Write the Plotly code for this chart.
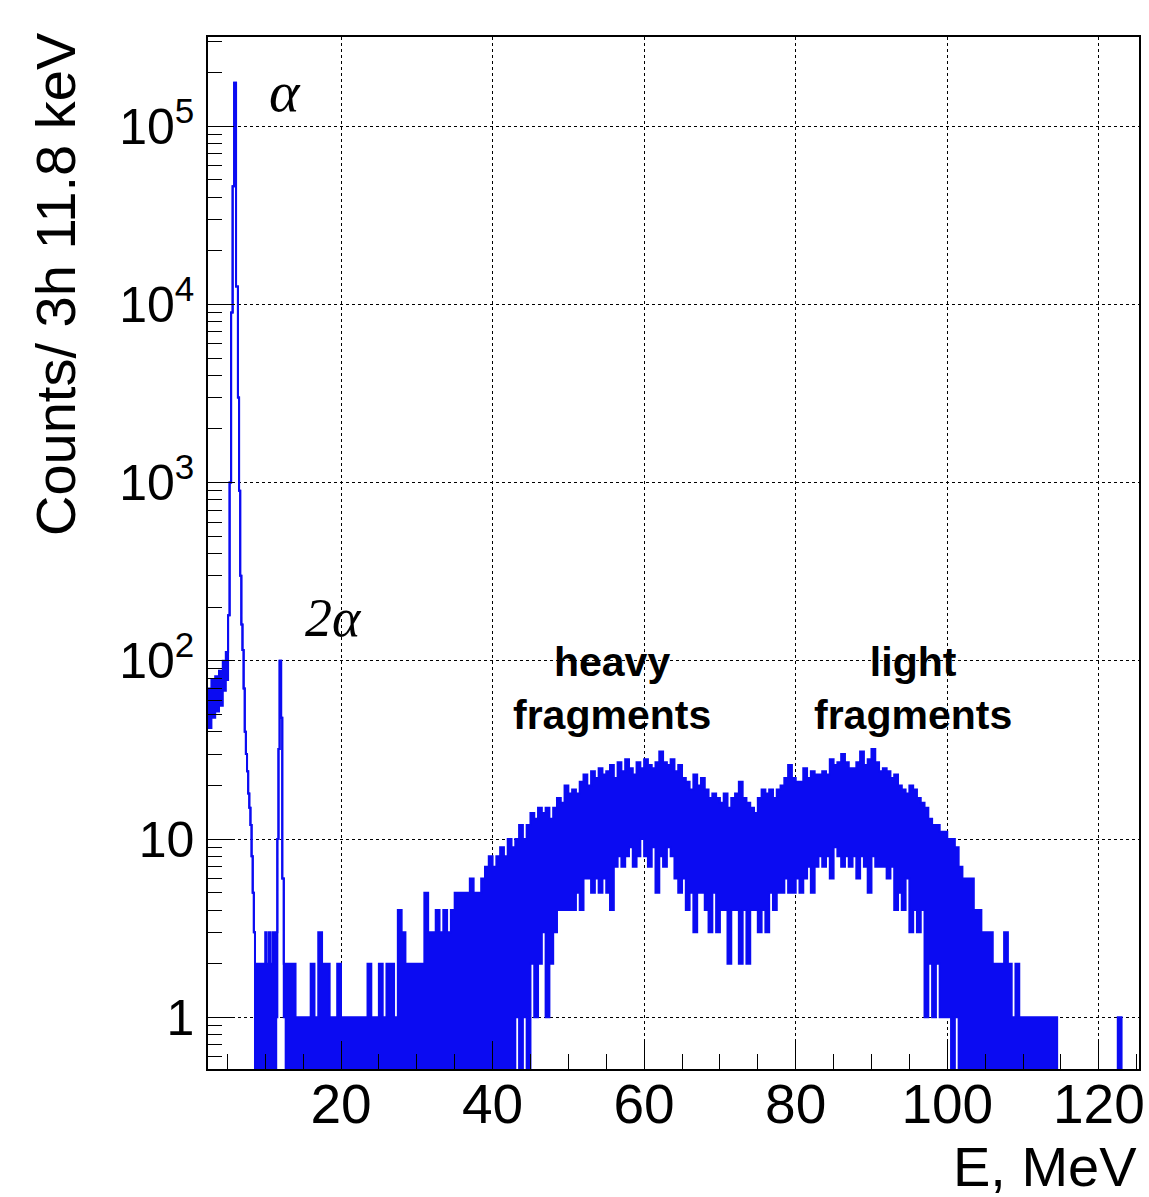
import plotly.graph_objects as go

# ---------------- data ----------------
# Low-energy part (alpha peak and 2-alpha peak): irregular bins, left edges in MeV
low_edges = [2.45, 2.9, 3.4, 3.9, 4.4, 4.8, 5.1, 5.3, 5.5, 5.7, 5.9, 6.15, 6.4, 6.55,
             6.7, 6.85, 7.0, 7.15, 7.3, 7.45, 7.6, 7.75, 7.9, 8.05, 8.2, 8.35, 8.5, 8.65,
             8.8, 10.0, 10.2, 10.5, 10.7, 11.0, 11.3, 11.45, 11.6, 11.75, 11.9, 12.1,
             12.25, 12.45, 12.7]
low_hi = [70, 78, 82, 88, 100, 112, 180, 1000, 9000, 46000, 175000, 12600, 3000, 900,
          300, 160, 115, 70, 40, 30, 24, 18, 15, 12, 8, 5, 3, 2,
          2, 3, 2, 3, 2, 3, 2, 3, 10, 32, 100, 48,
          6, 2, 2]
low_lo = [42, 48, 52, 56, 68, 78, 180, 1000, 9000, 46000, 175000, 12600, 3000, 900,
          300, 160, 115, 70, 40, 30, 24, 18, 15, 12, 8, 5, 3, 0,
          0, 0, 0, 0, 0, 0, 0, 1, 10, 32, 100, 48,
          6, 1, 0]

# Fragment part: 0.5 MeV slices starting at 13.0 MeV; upper and lower envelope of counts
frag_start = 13.0
frag_step = 0.5
frag_hi = [
    2, 2, 1, 1, 1, 1, 2, 1, 3, 2,            # 13.0 - 17.5
    2, 1, 1, 2, 1, 1, 1, 1, 1, 1,            # 18.0 - 22.5
    1, 2, 1, 1, 2, 1, 2, 2, 1, 4,            # 23.0 - 27.5
    3, 2, 2, 2, 2, 2, 5, 3, 3, 4,            # 28.0 - 32.5
    3, 4, 3, 4, 5, 5, 5, 5, 6, 5,            # 33.0 - 37.5
    5, 6, 7, 8, 7, 8, 9, 8, 10, 9,           # 38.0 - 42.5
    10, 12, 10, 12, 14, 13, 15, 14, 15, 13,  # 43.0 - 47.5
    15, 17, 16, 20, 18, 19, 18, 21, 23, 20,  # 48.0 - 52.5
    24, 22, 25, 23, 24, 26, 22, 27, 24, 28,  # 53.0 - 57.5
    25, 23, 27, 25, 28, 26, 25, 27, 31, 27,  # 58.0 - 62.5
    26, 28, 24, 26, 22, 21, 19, 23, 20, 22,  # 63.0 - 67.5
    19, 17, 18, 17, 16, 18, 15, 17, 18, 21,  # 68.0 - 72.5
    17, 16, 15, 14, 17, 19, 18, 19, 17, 19,  # 73.0 - 77.5
    20, 22, 26, 22, 21, 21, 25, 22, 24, 23,  # 78.0 - 82.5
    23, 24, 23, 28, 26, 27, 30, 27, 25, 25,  # 83.0 - 87.5
    27, 31, 26, 28, 32, 27, 24, 25, 24, 22,  # 88.0 - 92.5
    23, 20, 19, 18, 20, 19, 17, 16, 15, 13,  # 93.0 - 97.5
    12, 12, 11, 11, 10, 10, 9, 7, 6, 6,      # 98.0 - 102.5
    6, 4, 4, 3, 3, 3, 2, 2, 2, 3,            # 103.0 - 107.5
    2, 1, 2, 1, 1, 1, 1, 1, 1, 1,            # 108.0 - 112.5
    1, 1, 1, 0, 0, 0, 0, 0, 0, 0,            # 113.0 - 117.5
    0, 0, 0, 0, 0, 0, 0, 0, 0, 1,            # 118.0 - 122.5
    0, 0, 0, 0, 0,                           # 123.0 - 125.0
]
frag_lo = [
    0, 0, 0, 0, 0, 0, 0, 0, 0, 0,            # 13.0 - 17.5
    0, 0, 0, 0, 0, 0, 0, 0, 0, 0,            # 18.0 - 22.5
    0, 0, 0, 0, 0, 0, 0, 0, 0, 0,            # 23.0 - 27.5
    0, 0, 0, 0, 0, 0, 0, 0, 0, 0,            # 28.0 - 32.5
    0, 0, 0, 0, 0, 0, 0, 0, 0, 0,            # 33.0 - 37.5
    0, 0, 0, 0, 0, 0, 0, 0, 0, 0,            # 38.0 - 42.5
    1, 0, 1, 0, 2, 1, 2, 3, 1, 2,            # 43.0 - 47.5
    3, 4, 4, 4, 4, 4, 5, 4, 6, 6,            # 48.0 - 52.5
    5, 6, 5, 6, 5, 4, 7, 8, 7, 8,            # 53.0 - 57.5
    9, 7, 8, 10, 8, 7, 9, 5, 8, 7,           # 58.0 - 62.5
    9, 8, 6, 5, 6, 4, 5, 3, 5, 5,            # 63.0 - 67.5
    4, 3, 5, 3, 4, 4, 2, 4, 4, 2,            # 68.0 - 72.5
    4, 2, 4, 4, 3, 4, 3, 5, 4, 5,            # 73.0 - 77.5
    5, 6, 5, 5, 6, 5, 6, 7, 5, 7,            # 78.0 - 82.5
    8, 7, 8, 6, 9, 8, 7, 8, 7, 8,            # 83.0 - 87.5
    6, 8, 7, 5, 8, 7, 7, 7, 6, 7,            # 88.0 - 92.5
    4, 5, 4, 6, 3, 4, 3, 4, 1, 2,            # 93.0 - 97.5
    1, 2, 1, 1, 1, 0, 1, 0, 0, 0,            # 98.0 - 102.5
    0, 0, 0, 0, 0, 0, 0, 0, 0, 0,            # 103.0 - 107.5
    0, 0, 0, 0, 0, 0, 0, 0, 0, 0,            # 108.0 - 112.5
    0, 0, 0, 0, 0, 0, 0, 0, 0, 0,            # 113.0 - 117.5
    0, 0, 0, 0, 0, 0, 0, 0, 0, 0,            # 118.0 - 122.5
    0, 0, 0, 0, 0,                           # 123.0 - 125.0
]

x_ticks = [20, 40, 60, 80, 100, 120]
y_ticks = [1, 10, 100, 1000, 10000, 100000]
y_ticktext = ["1", "10", "10<sup>2</sup>", "10<sup>3</sup>", "10<sup>4</sup>", "10<sup>5</sup>"]

# ---------------- build histogram steps ----------------
FLOOR = 0.2  # empty bins drawn down to below the axis floor (as ROOT does)
frag_edges = [frag_start + frag_step * i for i in range(len(frag_hi))]
edges = low_edges + frag_edges
end_edge = frag_edges[-1] + frag_step
hi_vals = low_hi + frag_hi
lo_vals = low_lo + frag_lo


def steps(vals):
    ys = [v if v > 0 else FLOOR for v in vals]
    return edges + [end_edge], ys + [ys[-1]]


BLUE = "#0b0bf2"
xl, yl = steps(lo_vals)
xh, yh = steps(hi_vals)

fig = go.Figure()
fig.add_trace(go.Scatter(x=xl, y=yl, mode="lines", line=dict(shape="hv", color=BLUE, width=2),
                         hoverinfo="skip", showlegend=False))
fig.add_trace(go.Scatter(x=xh, y=yh, mode="lines", line=dict(shape="hv", color=BLUE, width=2),
                         fill="tonexty", fillcolor=BLUE, showlegend=False))

FONT = "Liberation Sans, Arial, Helvetica, sans-serif"
SERIF = "Liberation Serif, Times New Roman, serif"

x_minor = [v for v in range(5, 126, 5) if v not in x_ticks]
y_minor = [m * 10 ** d for d in range(-1, 6) for m in range(2, 10)]

fig.update_layout(
    width=1149, height=1197,
    margin=dict(l=208, r=10, t=37, b=128, autoexpand=False),
    paper_bgcolor="white", plot_bgcolor="white",
    font=dict(family=FONT, color="black"),
    xaxis=dict(
        range=[2.45, 125.3], tickmode="array", tickvals=x_ticks,
        ticks="inside", ticklen=28, tickwidth=1, tickcolor="black",
        minor=dict(tickmode="array", tickvals=x_minor, ticks="inside", ticklen=15,
                   tickcolor="black", showgrid=False),
        showgrid=True, gridcolor="black", griddash="dot", gridwidth=1,
        showline=True, linecolor="black", linewidth=1.5, mirror=True,
        zeroline=False, tickfont=dict(size=55, family=FONT), ticklabelstandoff=-14,
    ),
    yaxis=dict(
        type="log", range=[-0.29, 5.5], tickmode="array", tickvals=y_ticks,
        ticktext=y_ticktext,
        ticks="inside", ticklen=26, tickwidth=1, tickcolor="black",
        minor=dict(tickmode="array", tickvals=y_minor, ticks="inside", ticklen=14,
                   tickcolor="black", showgrid=False),
        showgrid=True, gridcolor="black", griddash="dot", gridwidth=1,
        showline=True, linecolor="black", linewidth=1.5, mirror=True,
        zeroline=False, tickfont=dict(size=50, family=FONT), ticklabelstandoff=2,
    ),
)

annotations = [
    dict(text="Counts/ 3h 11.8 keV", xref="paper", yref="paper", x=-0.163, y=1.007,
         xanchor="center", yanchor="top", textangle=-90, showarrow=False,
         font=dict(size=56, family=FONT)),
    dict(text="E, MeV", xref="paper", yref="paper", x=1.0, y=-0.094,
         xanchor="right", yanchor="middle", showarrow=False,
         font=dict(size=56, family=FONT)),
    dict(text="<i>α</i>", xref="paper", yref="paper", x=0.0827, y=0.947,
         xanchor="center", yanchor="middle", showarrow=False,
         font=dict(size=58, family=SERIF)),
    dict(text="<i>2α</i>", xref="paper", yref="paper", x=0.135, y=0.437,
         xanchor="center", yanchor="middle", showarrow=False,
         font=dict(size=54, family=SERIF)),
    dict(text="<b>heavy<br>fragments</b>", xref="paper", yref="paper", x=0.434, y=0.369,
         xanchor="center", yanchor="middle", showarrow=False,
         font=dict(size=41, family=FONT)),
    dict(text="<b>light<br>fragments</b>", xref="paper", yref="paper", x=0.757, y=0.369,
         xanchor="center", yanchor="middle", showarrow=False,
         font=dict(size=41, family=FONT)),
]
fig.update_layout(annotations=annotations)

page_fix = ("document.documentElement.style.margin='0';document.body.style.margin='0';"
            "document.body.style.padding='0';document.documentElement.style.overflow='hidden';"
            "document.body.style.overflow='hidden';")
fig.write_html("out.html", post_script=page_fix, config={"displayModeBar": False})
